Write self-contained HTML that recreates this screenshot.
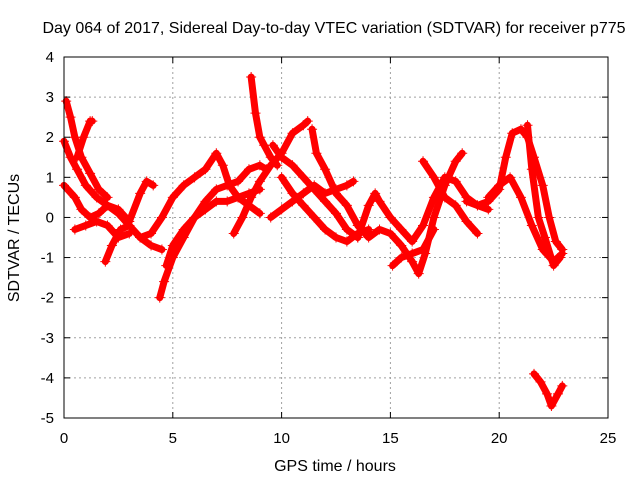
<!DOCTYPE html>
<html><head><meta charset="utf-8"><style>
body{margin:0;background:#fff;}
svg text{font-family:"Liberation Sans",sans-serif;font-size:15px;fill:#000;}
svg text.big{font-size:16px;}
</style></head><body>
<svg id="chart" width="640" height="480" xmlns="http://www.w3.org/2000/svg">
<g id="grid"></g>
<g id="series"></g>
<g id="axes"></g>
<text class="big" x="334" y="33" text-anchor="middle">Day 064 of 2017, Sidereal Day-to-day VTEC variation (SDTVAR) for receiver p775</text>
<text class="big" x="335" y="471" text-anchor="middle">GPS time / hours</text>
<text class="big" x="19" y="238" text-anchor="middle" transform="rotate(-90 19 238)">SDTVAR / TECUs</text>
</svg>
<script>
const xTicks=[0,5,10,15,20,25];
const yTicks=[-5,-4,-3,-2,-1,0,1,2,3,4];
const tracks=[
[[0,1.9],[0.3,1.5],[0.6,1.2],[1,0.8],[1.5,0.5],[2,0.3],[2.5,0.1],[3,-0.2],[3.5,-0.5],[4,-0.7],[4.5,-0.8]],
[[0.1,2.9],[0.3,2.5],[0.5,2.0],[0.8,1.5],[1.2,1.1],[1.6,0.7],[2,0.5]],
[[0,0.8],[0.5,0.5],[0.8,0.2],[1.2,0],[1.6,0.1],[2,0.3],[2.5,0.2],[3,-0.1],[3.5,0.6],[3.8,0.9],[4.1,0.8]],
[[0.6,1.5],[0.9,2.0],[1.2,2.4],[1.3,2.4]],
[[0.5,-0.3],[1,-0.2],[1.5,-0.1],[2,-0.2],[2.5,-0.5],[3,-0.4]],
[[1.9,-1.1],[2.2,-0.7],[2.6,-0.3],[3,-0.2]],
[[4.4,-2.0],[4.6,-1.6],[5,-1.0],[5.5,-0.5],[6,0],[6.5,0.4],[7,0.7],[7.5,0.8],[8,0.9],[8.5,1.2],[9,1.3],[9.3,1.2]],
[[3.5,-0.5],[4,-0.4],[4.5,0],[5,0.5],[5.5,0.8],[6,1.0],[6.5,1.2],[7,1.6],[7.3,1.3],[7.6,0.8],[8,0.5],[8.5,0.3],[9,0.1]],
[[4.7,-1.2],[5,-0.7],[5.5,-0.3],[6,0],[6.5,0.2],[7,0.4],[7.5,0.4],[8,0.5],[8.5,0.6],[9,0.7]],
[[8.6,3.5],[8.8,2.6],[9,2.0],[9.2,1.8],[9.5,1.5],[9.8,1.3]],
[[7.8,-0.4],[8.2,0],[8.6,0.5],[9,0.9],[9.5,1.3],[10,1.6],[10.5,2.1],[11,2.3],[11.2,2.4]],
[[9.6,1.8],[10,1.5],[10.5,1.3],[11,1.0],[11.5,0.7],[12,0.4],[12.5,0.1],[13,-0.3],[13.5,-0.5]],
[[10,1.0],[10.5,0.6],[11,0.3],[11.5,0],[12,-0.3],[12.5,-0.5],[13,-0.6],[13.5,-0.4],[14,-0.3]],
[[9.5,0],[10,0.2],[10.5,0.4],[11,0.6],[11.5,0.8],[12,0.6],[12.5,0.7],[13,0.8],[13.3,0.9]],
[[11.4,2.2],[11.6,1.6],[12,1.2],[12.5,0.6],[13,0.3],[13.5,-0.2],[14,-0.5],[14.5,-0.3],[15,-0.4],[15.5,-0.7],[16,-1.1],[16.3,-1.4],[16.6,-0.9],[17,0],[17.5,0.8],[18,1.4],[18.3,1.6]],
[[13.5,-0.5],[14,0.3],[14.3,0.6],[14.5,0.4],[15,0],[15.5,-0.3],[16,-0.6],[16.5,-0.2],[17,0.5],[17.5,1.0],[18,0.9],[18.5,0.5],[19,0.3],[19.5,0.2]],
[[15.1,-1.2],[15.5,-1.0],[16,-0.9],[16.5,-0.8],[17,-0.3]],
[[16.5,1.4],[17,1.0],[17.5,0.5],[18,0.3],[18.5,-0.1],[19,-0.4]],
[[18.5,0.4],[19,0.3],[19.5,0.4],[20,0.7],[20.3,1.5],[20.6,2.1],[21,2.2],[21.3,2.0],[21.6,1.5],[22,0.8],[22.3,0],[22.6,-0.6],[22.9,-0.8]],
[[19.5,0.5],[20,0.8],[20.5,1.0],[21,0.5],[21.5,-0.2],[22,-0.8],[22.5,-1.1],[22.9,-0.9]],
[[21.6,-3.9],[21.9,-4.1],[22.2,-4.4],[22.4,-4.7],[22.7,-4.4],[22.9,-4.2]],
[[21.3,2.3],[21.5,1.2],[21.8,0],[22.1,-0.5],[22.5,-1.2],[22.8,-1.0]]
];
const L=64,R=608,T=57,B=418;
const sx=v=>L+(v-0)/25*(R-L);
const sy=v=>B-(v+5)/9*(B-T);
const NS="http://www.w3.org/2000/svg";
function mk(tag,attrs,parent){const e=document.createElementNS(NS,tag);for(const k in attrs)e.setAttribute(k,attrs[k]);parent.appendChild(e);return e;}
const grid=document.getElementById('grid'),axes=document.getElementById('axes'),ser=document.getElementById('series');
xTicks.forEach(t=>{const x=sx(t);
 if(t>0&&t<25){const g=mk('line',{x1:x,x2:x,y1:T,y2:B,stroke:'#a0a0a0','stroke-dasharray':'2,3'},grid);}
 mk('line',{x1:x,x2:x,y1:B,y2:B-6,stroke:'#000'},axes);mk('line',{x1:x,x2:x,y1:T,y2:T+6,stroke:'#000'},axes);
 const tx=mk('text',{x:x,y:B+25,'text-anchor':'middle'},axes);tx.textContent=t;
 });
yTicks.forEach(t=>{const y=sy(t);
 if(t>-5&&t<4){const g=mk('line',{x1:L,x2:R,y1:y,y2:y,stroke:'#a0a0a0','stroke-dasharray':'2,3'},grid);}
 mk('line',{x1:L,x2:L+6,y1:y,y2:y,stroke:'#000'},axes);mk('line',{x1:R,x2:R-6,y1:y,y2:y,stroke:'#000'},axes);
 const tx=mk('text',{x:L-10,y:y+5,'text-anchor':'end'},axes);tx.textContent=t;
 });
mk('rect',{x:L,y:T,width:R-L,height:B-T,fill:'none',stroke:'#000'},axes);
tracks.forEach(tr=>{
 const pl=mk('polyline',{points:tr.map(p=>sx(p[0])+','+sy(p[1])).join(' '),fill:'none',stroke:'#ff0000','stroke-width':7,'stroke-linejoin':'round','stroke-linecap':'round'},ser);
 
 
 tr.forEach(p=>{const x=sx(p[0]),y=sy(p[1]);
  const m=mk('path',{d:`M${x-5},${y}H${x+5}M${x},${y-5}V${y+5}`,stroke:'#ff0000','stroke-width':1},ser);
  
  });
});
</script>
</body></html>
